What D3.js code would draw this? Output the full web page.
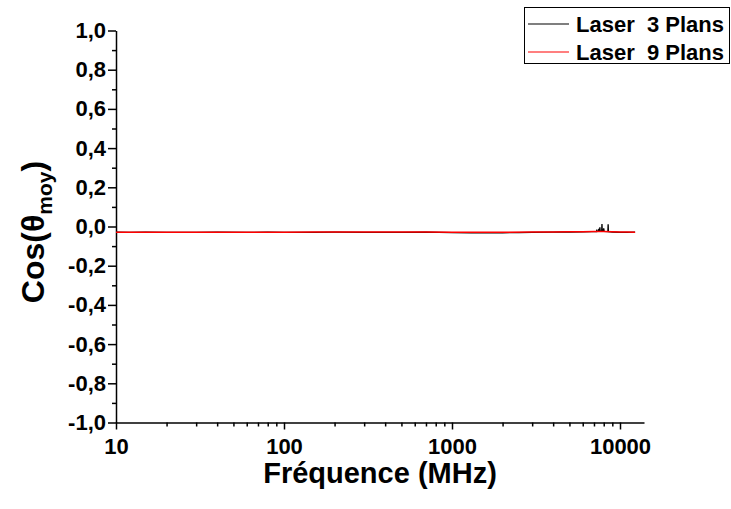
<!DOCTYPE html>
<html>
<head>
<meta charset="utf-8">
<script src="https://cdn.jsdelivr.net/npm/d3@7"></script>
<style>
  html, body { margin: 0; padding: 0; background: #fff; }
  svg { display: block; font-family: Arial, "Liberation Sans", sans-serif; }
  text { font-weight: bold; white-space: pre; }
</style>
</head>
<body>
<svg id="chart" width="731" height="509"></svg>
<script>
// ---- data ----
const seriesNames = ["Laser  3 Plans", "Laser  9 Plans"];
const seriesColors = ["#000000", "#ff0000"];

const freq3 = [10, 12, 15, 20, 30, 40, 60, 80, 100, 150, 200, 300, 500, 700, 1000, 1300, 1600, 2000, 2500, 3000, 4000, 5000, 6000, 6800, 7000, 7250, 7280, 7310, 7450, 7480, 7510, 7560, 7590, 7620, 7780, 7810, 7840, 7950, 8000, 8050, 8470, 8500, 8530, 9000, 10000, 11000, 12300];
const val3  = [-0.029, -0.030, -0.029, -0.030, -0.030, -0.029, -0.030, -0.029, -0.030, -0.030, -0.029, -0.030, -0.030, -0.029, -0.031, -0.032, -0.031, -0.032, -0.031, -0.030, -0.029, -0.028, -0.027, -0.026, -0.026, -0.025, -0.016, -0.025, -0.024, -0.012, -0.024, -0.024, -0.004, -0.024, -0.024, 0.012, -0.024, -0.023, -0.010, -0.025, -0.026, 0.012, -0.026, -0.028, -0.030, -0.030, -0.029];

const freq9 = [10, 15, 20, 30, 50, 70, 100, 150, 200, 300, 500, 700, 1000, 1500, 2000, 3000, 4000, 5000, 6000, 7000, 8000, 9000, 10000, 11000, 12300];
const val9  = [-0.029, -0.029, -0.029, -0.029, -0.029, -0.029, -0.029, -0.028, -0.028, -0.028, -0.028, -0.028, -0.029, -0.029, -0.029, -0.028, -0.028, -0.027, -0.027, -0.026, -0.026, -0.027, -0.028, -0.028, -0.029];

const xTickValues = [10, 100, 1000, 10000];
const xTickLabels = ["10", "100", "1000", "10000"];
const yTickValues = [-1.0, -0.8, -0.6, -0.4, -0.2, 0.0, 0.2, 0.4, 0.6, 0.8, 1.0];

const xTitle = "Fréquence (MHz)";

// ---- layout ----
const svg = d3.select("#chart");
const L = 116, R = 644, T = 30.5, B = 422.5;

const x = d3.scaleLog().domain([10, Math.pow(10, 1 + (R - L) / 168)]).range([L, R]);
const y = d3.scaleLinear().domain([-1, 1]).range([B, T]);

// minor ticks
const xMinor = [];
for (let d = 10; d <= 10000; d *= 10) for (let k = 2; k <= 9; k++) if (d * k <= x.domain()[1]) xMinor.push(d * k);
const yMinor = d3.range(-0.9, 1.0, 0.2).map(v => +v.toFixed(1));

// x axis
const gx = svg.append("g").attr("transform", `translate(0,${B})`);
gx.call(d3.axisBottom(x).tickValues(xMinor).tickSize(4).tickFormat(""))
  .call(g => g.select(".domain").remove());
const gxMaj = svg.append("g").attr("transform", `translate(0,${B})`)
  .call(d3.axisBottom(x).tickValues(xTickValues).tickSize(7).tickSizeOuter(0)
    .tickFormat((d, i) => xTickLabels[i]).tickPadding(9));
gxMaj.selectAll("text").attr("font-size", 22).attr("font-weight", "bold").attr("fill", "#000")
  .attr("font-family", "Arial, 'Liberation Sans', sans-serif");
gxMaj.select(".domain").attr("stroke-width", 1.5);

// y axis
const gy = svg.append("g").attr("transform", `translate(${L},0)`);
gy.call(d3.axisLeft(y).tickValues(yMinor).tickSize(4).tickFormat(""))
  .call(g => g.select(".domain").remove());
const gyMaj = svg.append("g").attr("transform", `translate(${L},0)`)
  .call(d3.axisLeft(y).tickValues(yTickValues).tickSize(8).tickSizeOuter(0)
    .tickFormat(d => d3.format(".1f")(d).replace(".", ",").replace("−", "-")).tickPadding(2));
gyMaj.selectAll("text").attr("font-size", 22).attr("font-weight", "bold").attr("fill", "#000")
  .attr("font-family", "Arial, 'Liberation Sans', sans-serif");
gyMaj.select(".domain").attr("stroke-width", 1.5);
svg.selectAll("g line").attr("stroke-width", 1.5);

// lines
const line = d3.line().x(d => x(d[0])).y(d => y(d[1]));
const d3data = freq3.map((f, i) => [f, val3[i]]);
const d9data = freq9.map((f, i) => [f, val9[i]]);
svg.append("path").datum(d3data).attr("d", line).attr("fill", "none")
  .attr("stroke", seriesColors[0]).attr("stroke-width", 1.3);
svg.append("path").datum(d9data).attr("d", line).attr("fill", "none")
  .attr("stroke", seriesColors[1]).attr("stroke-width", 1.5);

// titles
svg.append("text").attr("x", 380).attr("y", 483).attr("text-anchor", "middle")
  .attr("font-size", 29).text(xTitle);

const yt = svg.append("text").attr("transform", "translate(44,232) rotate(-90)")
  .attr("text-anchor", "middle").attr("font-size", 32);
yt.append("tspan").text("Cos(θ");
yt.append("tspan").attr("font-size", 21).attr("dy", 8).text("moy");
yt.append("tspan").attr("dy", -8).text(")");

// legend
const lg = svg.append("g");
lg.append("rect").attr("x", 524.5).attr("y", 7.5).attr("width", 205).attr("height", 56)
  .attr("fill", "#fff").attr("stroke", "#000").attr("stroke-width", 1);
seriesNames.forEach((n, i) => {
  const yy = 24 + i * 28;
  lg.append("line").attr("x1", 528).attr("x2", 569).attr("y1", yy).attr("y2", yy)
    .attr("stroke", seriesColors[i]).attr("stroke-width", 1.2);
  lg.append("text").attr("x", 576).attr("y", yy + 8).attr("font-size", 22).text(n);
});
</script>
</body>
</html>
